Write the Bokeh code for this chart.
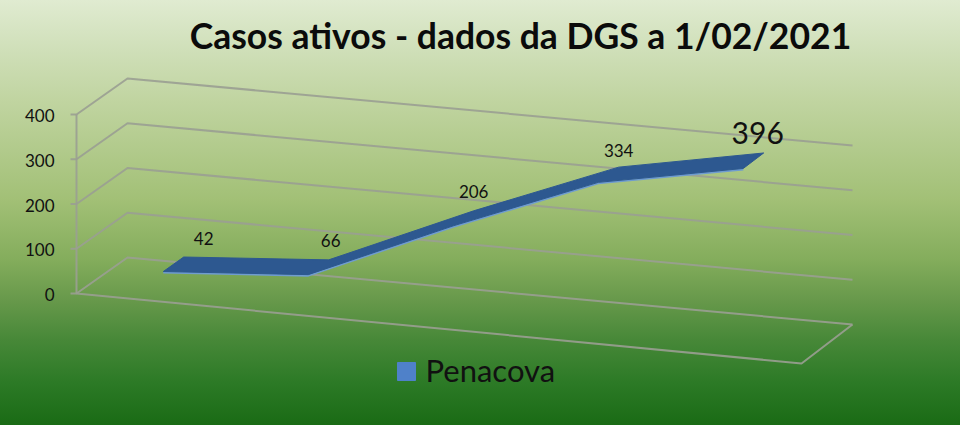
from bokeh.embed import file_html
from bokeh.resources import INLINE
from bokeh.plotting import figure
from bokeh.models import ColumnDataSource, Range1d
from bokeh.core.properties import value

title_text = "Casos ativos - dados da DGS a 1/02/2021"
series_name = "Penacova"
values = [42, 66, 206, 334, 396]
y_ticks = [0, 100, 200, 300, 400]

FONT = "Lato"
GRID = "#9a9f92"
RIBBON = "#2d5890"
FRINGE = "#6f9ccf"


def proj(u, w, v):
    """Oblique projection: u along categories, w in depth, v the value."""
    return (76 + 725 * u + 51 * w, 293 + 70 * u - 36 * w - 3 * u * w - 0.4475 * v)


p = figure(width=960, height=425, output_backend="svg", toolbar_location=None,
           x_range=Range1d(0, 960), y_range=Range1d(425, 0), min_border=0)
p.axis.visible = False
p.grid.visible = False
p.outline_line_color = None
p.background_fill_alpha = 0
p.border_fill_alpha = 0
p.styles = {"position": "fixed", "left": "0", "top": "0",
            "background": "linear-gradient(180deg, #e0ebd1 0%, #cfdfb8 12%, #c0d4a0 24%, "
                          "#a2c076 47%, #84ad5c 61%, #66984a 71%, #478838 80%, #2c7a26 90%, #1a6b15 100%)"}

# walls and floor
xs, ys = [], []
for t in y_ticks:
    a, b, c = proj(0, 0, t), proj(0, 1, t), proj(1, 1, t)
    xs.append([a[0] - 6, a[0], b[0], c[0]])
    ys.append([a[1], a[1], b[1], c[1]])
a, b, c, d = proj(0, 0, 0), proj(1, 0, 0), proj(1, 1, 0), proj(0, 0, y_ticks[-1])
xs += [[a[0], b[0], c[0]], [a[0], d[0]]]
ys += [[a[1], b[1], c[1]], [a[1], d[1]]]
p.multi_line(xs, ys, line_color=GRID, line_width=2, line_alpha=0.9)

# tick labels of the value axis
tx = [proj(0, 0, t)[0] - 22 for t in y_ticks]
ty = [proj(0, 0, t)[1] + 1 for t in y_ticks]
p.text(tx, ty, text=[str(t) for t in y_ticks], text_font=value(FONT),
       text_font_size="17px", text_color="#111111", text_align="right", text_baseline="middle")

# ribbon
W0, W1 = 0.28, 0.68
n = len(values)
front = [proj((i + 0.5) / n, W0, v) for i, v in enumerate(values)]
back = [proj((i + 0.5) / n, W1, v) for i, v in enumerate(values)]
px = [q[0] for q in back] + [q[0] for q in reversed(front)]
py = [q[1] for q in back] + [q[1] for q in reversed(front)]
p.line([q[0] for q in front], [q[1] + 1 for q in front], line_color=FRINGE, line_width=2)
p.patch(px, py, fill_color=RIBBON, line_color=RIBBON, line_width=1)

# data labels
lab = ColumnDataSource(dict(
    x=[q[0] for q in back], y=[q[1] for q in back], t=[str(v) for v in values],
    dx=[20, 2, 0, 0, -6], dy=[-19, -19, -19, -17, -20],
    fs=["17px", "17px", "17px", "17px", "30px"],
))
p.text("x", "y", text="t", source=lab, x_offset="dx", y_offset="dy", text_font_size="fs",
       text_font=value(FONT), text_color="#111111", text_align="center", text_baseline="middle")

# title
p.text([520], [35], text=[title_text], text_font=value(FONT), text_font_style="bold",
       text_font_size="35.5px", text_color="#0b0b0b", text_align="center", text_baseline="middle")

# legend
p.scatter([406], [371], marker="square", size=18, fill_color="#4f81c9", line_color="#4f81c9")
p.text([425], [369], text=[series_name], text_font=value(FONT), text_font_size="31px",
       text_color="#111111", text_align="left", text_baseline="middle")

open("out.html", "w").write(file_html(p, INLINE))
